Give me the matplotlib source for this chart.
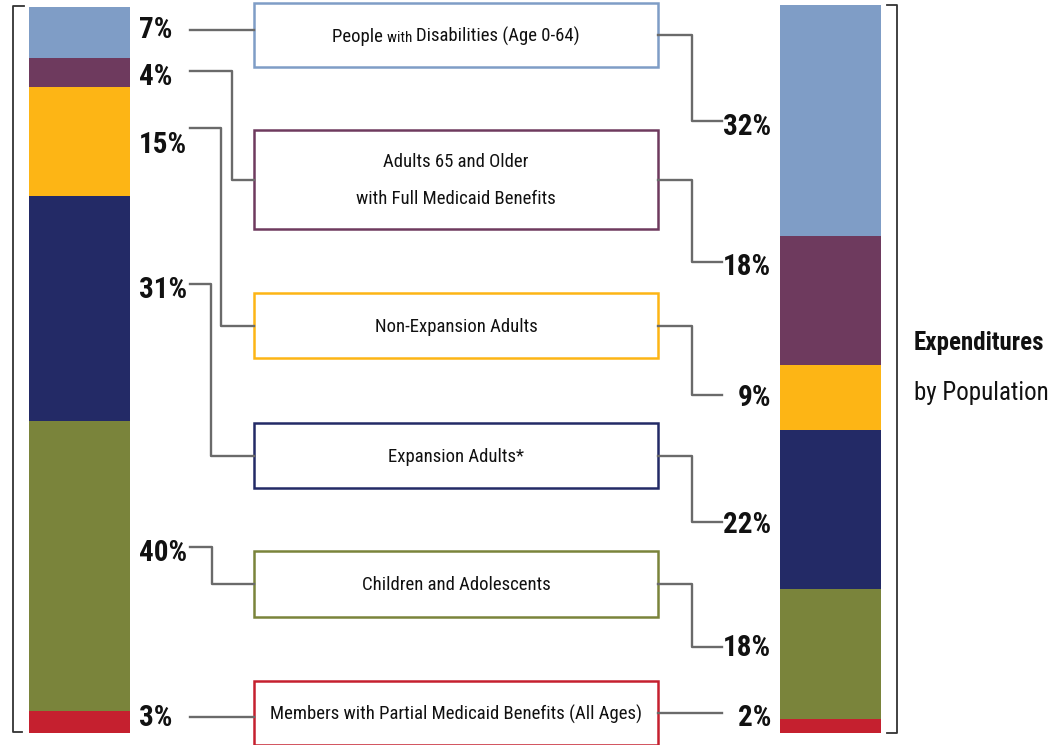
import numpy as np
import matplotlib
matplotlib.use("Agg")
import matplotlib.pyplot as plt
from matplotlib.patches import Rectangle

plt.rcParams['font.family'] = ['Roboto Condensed', 'Roboto', 'DejaVu Sans']

# data
groups = ["People with Disabilities (Age 0-64)",
          "Adults 65 and Older\nwith Full Medicaid Benefits",
          "Non-Expansion Adults",
          "Expansion Adults*",
          "Children and Adolescents",
          "Members with Partial Medicaid Benefits (All Ages)"]
enrollment = [7, 4, 15, 31, 40, 3]
expenditures = [32, 18, 9, 22, 18, 2]
colors = ["#7f9dc6", "#6e3a5e", "#fdb515", "#232a66", "#7a843b", "#c5202f"]

W, H = 1056, 745
fig = plt.figure(figsize=(W / 100, H / 100), dpi=100)
ax = fig.add_axes([0, 0, 1, 1])
ax.set_xlim(0, W)
ax.set_ylim(H, 0)
ax.axis('off')


def bar_axes(x0, y0, w, h, values):
    b = fig.add_axes([x0 / W, 1 - (y0 + h) / H, w / W, h / H])
    cum = 0
    for v, c in zip(values, colors):
        b.bar(0, v, bottom=cum, width=1, color=c, edgecolor='none')
        cum += v
    b.set_xlim(-0.5, 0.5)
    b.set_ylim(cum, 0)
    b.axis('off')
    return b


bar_axes(29, 7, 101, 726, enrollment)
bar_axes(780, 5, 101, 728, expenditures)

# brackets
lc = '#333333'
ax.plot([24, 13, 13, 22], [6, 6, 732, 732], color=lc, lw=1.3)
ax.plot([887, 897, 897, 887], [5, 5, 733, 733], color=lc, lw=1.3)

# layout of middle boxes and connectors
box_x0, box_x1 = 254, 658
box_y = [(3, 67), (130, 229), (293, 358), (423, 488), (551, 617), (681, 745)]
left_lab_y = [30, 77, 145, 290, 553, 718]
left_line_y = [30, 71, 128, 284, 547, 717]
left_elbow_x = [None, 232, 221, 211, 212, None]
right_lab_y = [127, 267, 398, 525, 648, 718]
right_line_y = [121, 262, 395, 522, 647, 717]

gray = '#6a6a6a'
tc = '#111111'
fs_box = 13.5
for i, (g, c) in enumerate(zip(groups, colors)):
    y0, y1 = box_y[i]
    ym = (y0 + y1) / 2
    ax.add_patch(Rectangle((box_x0, y0), box_x1 - box_x0, y1 - y0,
                           fill=False, edgecolor=c, lw=1.8))
    if i == 0:
        # "with" is set smaller in the original
        parts = [("People ", fs_box), ("with ", 11), ("Disabilities (Age 0-64)", fs_box)]
        txts = []
        for s, fs in parts:
            txts.append(ax.text(0, ym, s, fontsize=fs, va='baseline', ha='left',
                                color=tc))
        fig.canvas.draw()
        r = fig.canvas.get_renderer()
        widths = [t.get_window_extent(r).width for t in txts]
        x = (box_x0 + box_x1) / 2 - sum(widths) / 2
        for t, wd in zip(txts, widths):
            t.set_x(x)
            t.set_y(ym + 7)
            x += wd
    else:
        ax.text((box_x0 + box_x1) / 2, ym + 1, g, fontsize=fs_box, va='center',
                ha='center', color=tc, linespacing=2.3)

    # left connector
    ly = left_line_y[i]
    ex = left_elbow_x[i]
    if ex is None:
        ax.plot([190, box_x0], [ly, ly], color=gray, lw=1.7)
    else:
        ax.plot([190, ex, ex, box_x0], [ly, ly, ym, ym], color=gray, lw=1.7)
    # right connector
    ry = right_line_y[i]
    if i == 5:
        ax.plot([box_x1, 722], [ym, ym], color=gray, lw=1.7)
    else:
        ax.plot([box_x1, 692, 692, 722], [ym, ym, ry, ry], color=gray, lw=1.7)

    ax.text(139, left_lab_y[i], f"{enrollment[i]}%", fontsize=21, fontweight='bold',
            va='center', ha='left', color=tc)
    ax.text(771, right_lab_y[i], f"{expenditures[i]}%", fontsize=21, fontweight='bold',
            va='center', ha='right', color=tc)

ax.text(914, 343, "Expenditures", fontsize=18, fontweight='bold', va='center',
        ha='left', color=tc)
ax.text(914, 393, "by Population", fontsize=18, va='center', ha='left',
        color=tc)

fig.savefig("out.png", dpi=100)
